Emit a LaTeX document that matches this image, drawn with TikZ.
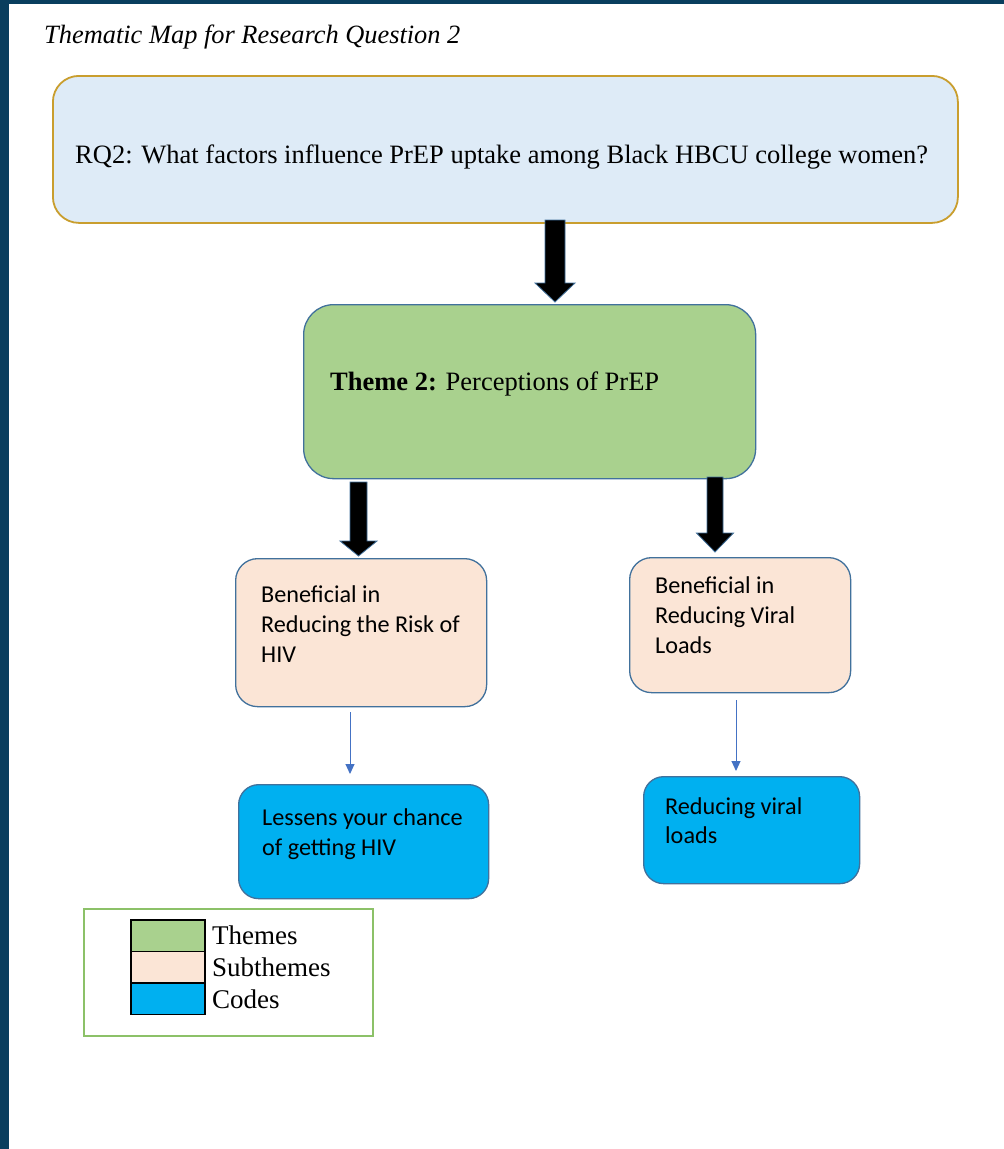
\documentclass[tikz,border=0pt]{standalone}
\usepackage{fontspec}
\setmainfont{Liberation Serif}
\newfontfamily\calibri{Carlito}
\usetikzlibrary{calc,arrows.meta}
\definecolor{navy}{RGB}{9,62,94}
\definecolor{rqfill}{RGB}{222,235,247}
\definecolor{rqdraw}{RGB}{201,158,46}
\definecolor{themefill}{RGB}{169,209,142}
\definecolor{subfill}{RGB}{251,229,214}
\definecolor{codefill}{RGB}{0,176,240}
\definecolor{boxdraw}{RGB}{65,113,156}
\definecolor{thinarr}{RGB}{68,114,196}
\definecolor{legdraw}{RGB}{140,193,104}
\tikzset{
  box/.style={rectangle, draw=boxdraw, line width=1.3pt, inner sep=0pt, anchor=north west},
  rqbox/.style={box, draw=rqdraw, fill=rqfill, line width=1.8pt, rounded corners=26pt},
  themebox/.style={box, fill=themefill, rounded corners=30pt},
  subbox/.style={box, fill=subfill, rounded corners=22pt},
  codebox/.style={box, fill=codefill, rounded corners=20pt},
  sanstext/.style={anchor=base west, inner sep=0pt, align=left, font=\calibri\fontsize{24.2}{30}\selectfont},
  seriftext/.style={anchor=base west, inner sep=0pt, font=\fontsize{26.5}{30}\selectfont},
  fatarr/.style={fill=black, draw=boxdraw, line width=0.8pt},
  thin/.style={draw=thinarr, line width=1pt, -{Triangle[width=9pt,length=10pt]}},
  swatch/.style={rectangle, draw=black, line width=1.5pt, inner sep=0pt, minimum width=74pt, minimum height=31.5pt, anchor=north west}
}
\newcommand\fatarrow[5]{%
  \draw[fatarr] let \p1=(#1), \p2=(#2) in
    (\x1-#3,\y1) -- (\x1+#3,\y1) -- (\x1+#3,\y2+#5) -- (\x1+#4,\y2+#5)
    -- (\x2,\y2) -- (\x1-#4,\y2+#5) -- (\x1-#3,\y2+#5) -- cycle;}
\begin{document}
\begin{tikzpicture}[x=1pt,y=-1pt]
\useasboundingbox (0,0) rectangle (1004,1149);
\fill[white] (0,0) rectangle (1004,1149);
\fill[navy] (0,0) rectangle (1004,4);
\fill[navy] (0,0) rectangle (9,1149);

\node[seriftext, font=\itshape\fontsize{26.4}{30}\selectfont] (title) at (44,43) {Thematic Map for Research Question 2};

% boxes
\node[rqbox, minimum width=905pt, minimum height=147pt] (rq) at (52,75) {};
\node[seriftext] (rqt) at (75,163) {RQ2: What factors influence PrEP uptake among Black HBCU college women?};

\node[themebox, minimum width=452pt, minimum height=174pt] (theme) at (303,304) {};
\node[seriftext] (themet) at (330,390) {\textbf{Theme 2:} Perceptions of PrEP};

\node[subbox, minimum width=251pt, minimum height=148pt] (s1) at (235,558) {};
\node[sanstext] (s1t) at (261,662) {Beneficial in\\Reducing the Risk of\\HIV};

\node[subbox, minimum width=221pt, minimum height=135pt] (s2) at (629,557) {};
\node[sanstext] (s2t) at (655,653) {Beneficial in\\Reducing Viral\\Loads};

\node[codebox, minimum width=250pt, minimum height=114pt] (c1) at (238,784) {};
\node[sanstext] (c1t) at (262,855) {Lessens your chance\\of getting HIV};

\node[codebox, minimum width=216pt, minimum height=107pt] (c2) at (643,776) {};
\node[sanstext, font=\calibri\fontsize{24.2}{28.5}\selectfont] (c2t) at (665,843) {Reducing viral\\loads};

% fat arrows
\coordinate (a1s) at (555,220);
\coordinate (a1e) at (555,302);
\coordinate (a2s) at (358.5,482);
\coordinate (a2e) at (358.5,556);
\coordinate (a3s) at (715,477);
\coordinate (a3e) at (715,552);
\fatarrow{a1s}{a1e}{10pt}{20pt}{19pt}
\fatarrow{a2s}{a2e}{8.5pt}{18.5pt}{15pt}
\fatarrow{a3s}{a3e}{8pt}{18.5pt}{19pt}

% thin arrows
\coordinate (t1s) at (350,712);
\coordinate (t1e) at (350,774);
\coordinate (t2s) at (736,700);
\coordinate (t2e) at (736,771);
\draw[thin] (t1s) -- (t1e);
\draw[thin] (t2s) -- (t2e);

% legend
\node[rectangle, draw=legdraw, line width=2pt, minimum width=289pt, minimum height=127pt, anchor=north west, inner sep=0pt] (leg) at (83,908) {};
\node[swatch, fill=themefill] (lg1) at (130,919) {};
\node[swatch, fill=subfill] (lg2) at (130,950.5) {};
\node[swatch, fill=codefill] (lg3) at (130,982) {};
\node[seriftext, font=\fontsize{27}{30}\selectfont] (lt1) at (212,944) {Themes};
\node[seriftext, font=\fontsize{27}{30}\selectfont] (lt2) at (212,976) {Subthemes};
\node[seriftext, font=\fontsize{27}{30}\selectfont] (lt3) at (212,1008) {Codes};
\end{tikzpicture}
\end{document}
